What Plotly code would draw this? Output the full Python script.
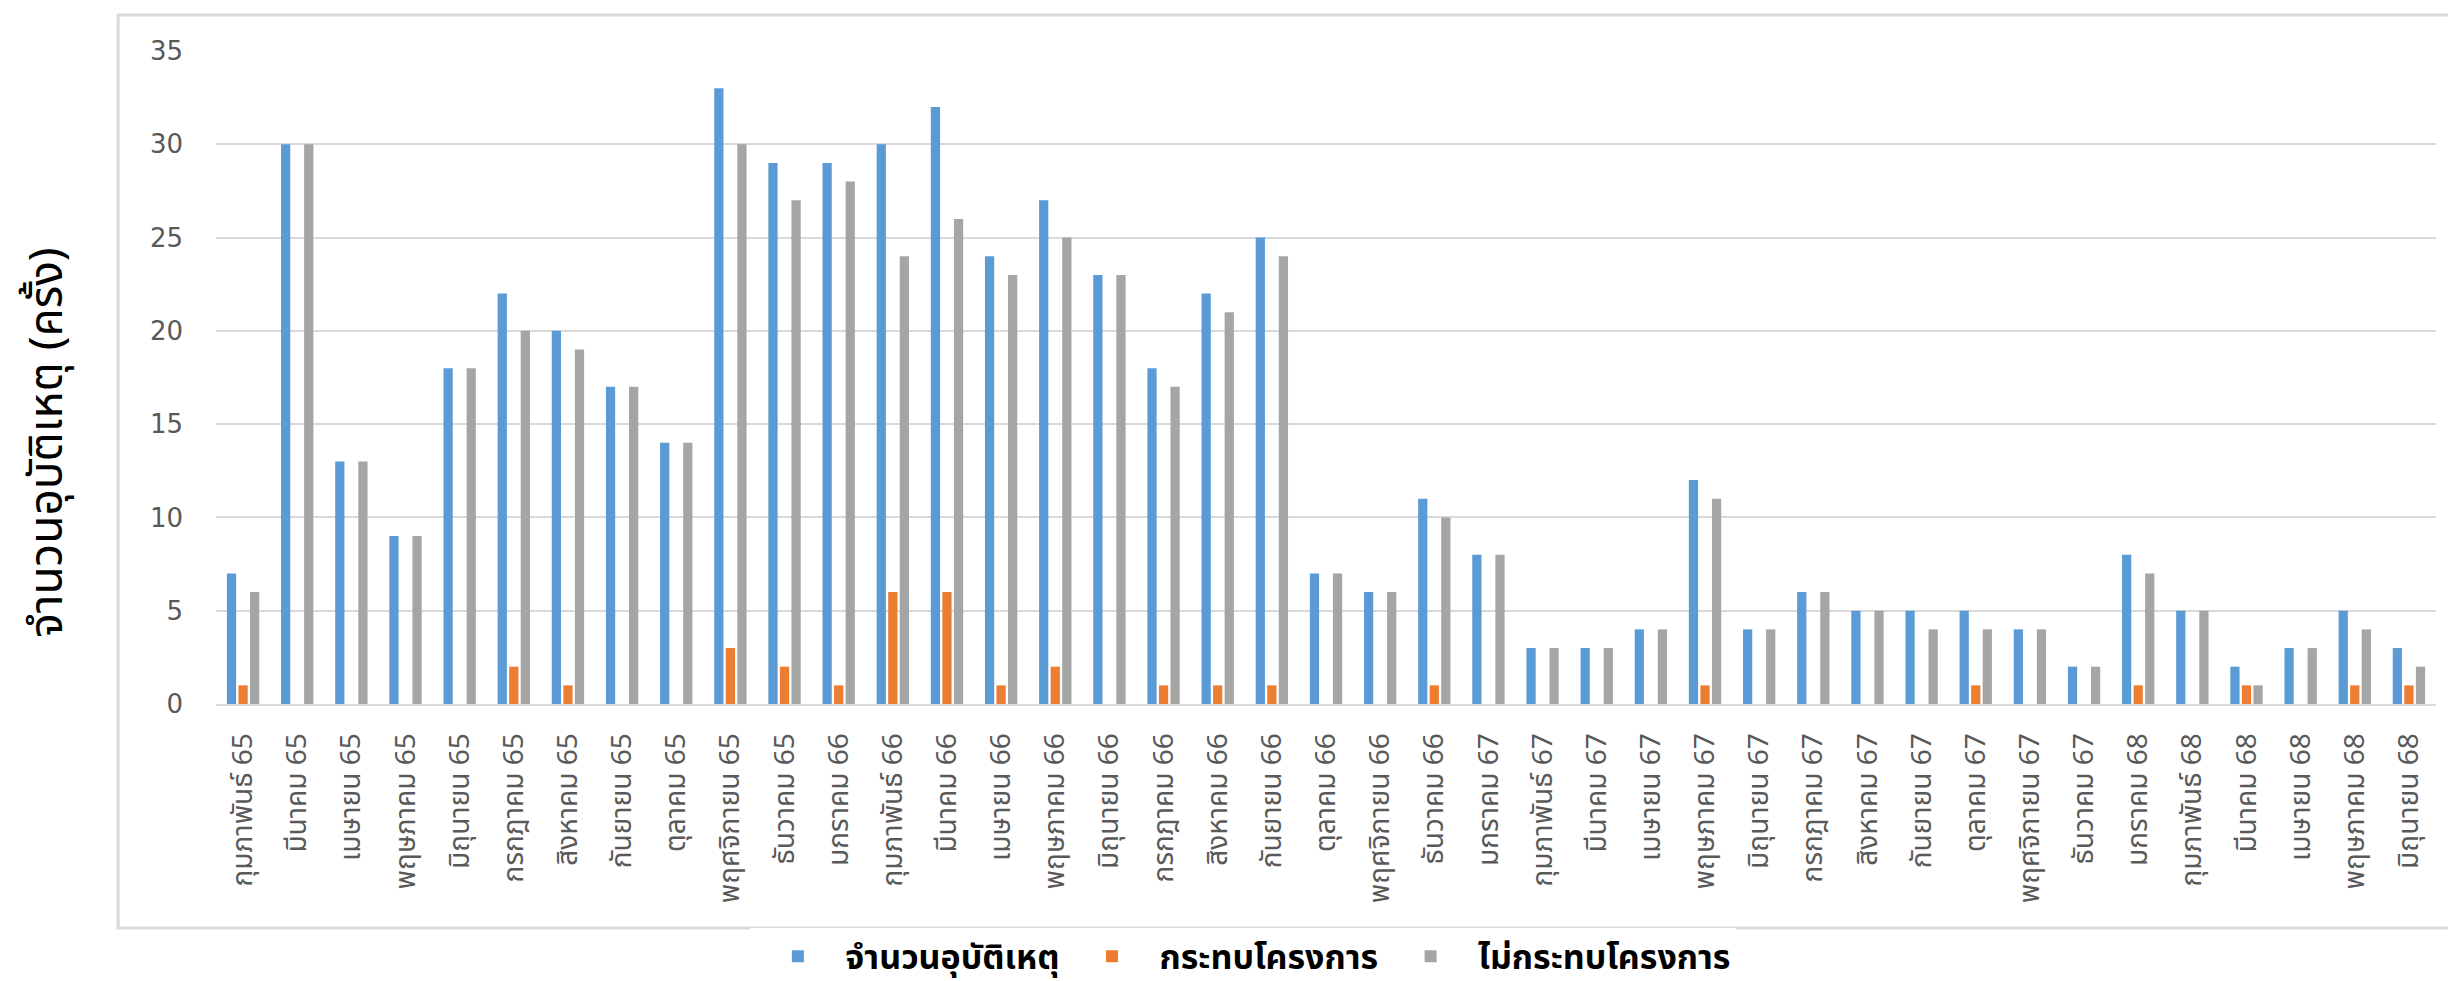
import plotly.graph_objects as go

# เดือน (แกน x)
months = [
    "กุมภาพันธ์ 65", "มีนาคม 65", "เมษายน 65", "พฤษภาคม 65", "มิถุนายน 65",
    "กรกฎาคม 65", "สิงหาคม 65", "กันยายน 65", "ตุลาคม 65", "พฤศจิกายน 65",
    "ธันวาคม 65", "มกราคม 66", "กุมภาพันธ์ 66", "มีนาคม 66", "เมษายน 66",
    "พฤษภาคม 66", "มิถุนายน 66", "กรกฎาคม 66", "สิงหาคม 66", "กันยายน 66",
    "ตุลาคม 66", "พฤศจิกายน 66", "ธันวาคม 66", "มกราคม 67", "กุมภาพันธ์ 67",
    "มีนาคม 67", "เมษายน 67", "พฤษภาคม 67", "มิถุนายน 67", "กรกฎาคม 67",
    "สิงหาคม 67", "กันยายน 67", "ตุลาคม 67", "พฤศจิกายน 67", "ธันวาคม 67",
    "มกราคม 68", "กุมภาพันธ์ 68", "มีนาคม 68", "เมษายน 68", "พฤษภาคม 68",
    "มิถุนายน 68",
]

# จำนวนอุบัติเหตุ
total = [7, 30, 13, 9, 18, 22, 20, 17, 14, 33, 29, 29, 30, 32, 24, 27, 23, 18, 22, 25,
         7, 6, 11, 8, 3, 3, 4, 12, 4, 6, 5, 5, 5, 4, 2, 8, 5, 2, 3, 5, 3]
# กระทบโครงการ
affected = [1, 0, 0, 0, 0, 2, 1, 0, 0, 3, 2, 1, 6, 6, 1, 2, 0, 1, 1, 1,
            0, 0, 1, 0, 0, 0, 0, 1, 0, 0, 0, 0, 1, 0, 0, 1, 0, 1, 0, 1, 1]
# ไม่กระทบโครงการ
not_affected = [6, 30, 13, 9, 18, 20, 19, 17, 14, 30, 27, 28, 24, 26, 23, 25, 23, 17, 21, 24,
                7, 6, 10, 8, 3, 3, 4, 11, 4, 6, 5, 4, 4, 4, 2, 7, 5, 1, 3, 4, 2]

series_names = ["จำนวนอุบัติเหตุ", "กระทบโครงการ", "ไม่กระทบโครงการ"]
y_ticks = [0, 5, 10, 15, 20, 25, 30, 35]

THAI_FONT = "Noto Sans Thai, Tahoma, Loma, Garuda, Noto Sans, sans-serif"

fig = go.Figure()
for name, vals, color in zip(series_names,
                             [total, affected, not_affected],
                             ["#5B9BD5", "#ED7D31", "#A5A5A5"]):
    fig.add_trace(go.Bar(x=months, y=vals, name=name, marker_color=color,
                         marker_line_width=0))

fig.update_layout(
    width=2456, height=981,
    margin=dict(l=208, r=28, t=43, b=285),
    paper_bgcolor="white",
    plot_bgcolor="white",
    barmode="group",
    bargap=0.36,
    bargroupgap=0.2,
    font=dict(family=THAI_FONT, color="#595959"),
    legend=dict(
        orientation="h",
        xref="container", yref="container",
        x=0.503, xanchor="center",
        y=0.033, yanchor="middle",
        font=dict(size=34, color="black", family=THAI_FONT, weight="bold"),
        itemwidth=85,
        traceorder="normal",
    ),
    showlegend=True,
)

fig.update_yaxes(
    range=[0, 35],
    tickvals=y_ticks,
    showgrid=True, gridcolor="#D9D9D9", gridwidth=2,
    zeroline=False,
    tickfont=dict(size=26, color="#595959", family="DejaVu Sans"),
    ticks="", ticklabelstandoff=32,
    showline=False,
)
fig.update_xaxes(
    tickangle=-90,
    tickfont=dict(size=28, color="#595959"),
    showline=True, linecolor="#D9D9D9", linewidth=2,
    ticks="", ticklabelstandoff=16,
)

# ชื่อแกน y
fig.add_annotation(
    text="จำนวนอุบัติเหตุ (ครั้ง)",
    xref="paper", yref="paper",
    x=-0.0757, y=0.40, xanchor="center", yanchor="middle",
    textangle=-90, showarrow=False,
    font=dict(size=46, color="black", family=THAI_FONT),
)

# กรอบแผนภูมิ
fig.add_shape(
    type="rect", xref="paper", yref="paper",
    x0=-0.0441, x1=1.02, y0=-0.343, y1=1.055,
    line=dict(color="#D9D9D9", width=3),
    fillcolor="rgba(0,0,0,0)", layer="below",
)

fig.write_html("out.html")
